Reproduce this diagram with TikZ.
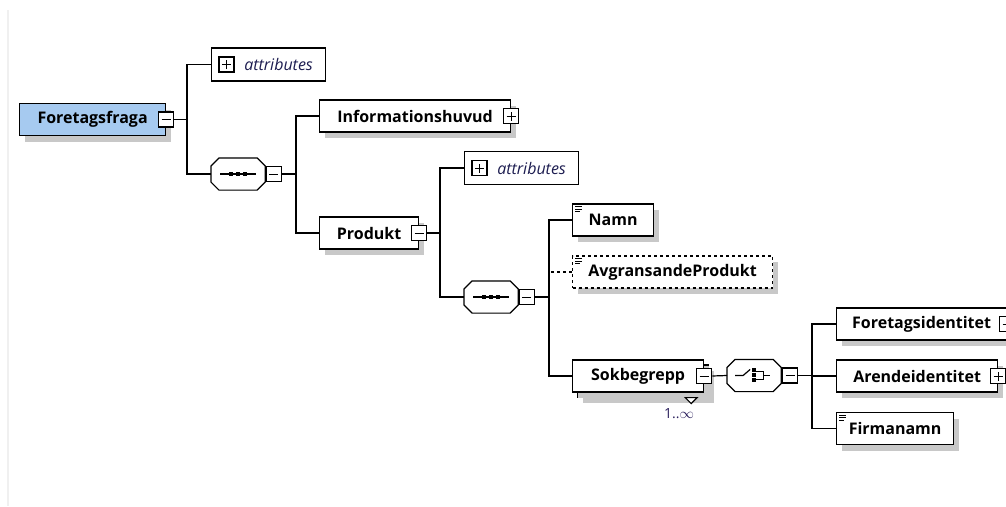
\documentclass[tikz,border=0pt]{standalone}
\usepackage{fontspec}
\setmainfont{Open Sans}
\usepackage{tikz}
\usetikzlibrary{positioning,shadows}

\definecolor{elemblue}{HTML}{A6CAF0}
\definecolor{shadowgray}{HTML}{C8C8C8}
\definecolor{attrtext}{HTML}{1C1C50}
\definecolor{occurtext}{HTML}{2A1F5C}
\definecolor{edgegray}{HTML}{F0F0F0}

% octagon outline round a compositor node
\newcommand{\octpath}[1]{([xshift=8pt]#1.north west) -- ([xshift=-8pt]#1.north east)
  -- ([yshift=-8pt]#1.north east) -- ([yshift=8pt]#1.south east)
  -- ([xshift=-8pt]#1.south east) -- ([xshift=8pt]#1.south west)
  -- ([yshift=8pt]#1.south west) -- ([yshift=-8pt]#1.north west) -- cycle}

\begin{document}
\begin{tikzpicture}[x=1pt, y=-1pt, line width=1.2pt,
  elem/.style={draw, fill=white, anchor=west, minimum height=32pt, inner sep=0pt,
    font=\bfseries\fontsize{16}{18}\selectfont,
    general shadow={fill=shadowgray, shadow xshift=5pt, shadow yshift=-6pt}},
  attrbox/.style={draw, fill=white, anchor=west, minimum height=33pt, minimum width=114pt,
    inner sep=0pt, text=attrtext, font=\itshape\fontsize{16}{18}\selectfont},
  compositor/.style={anchor=west, minimum width=53pt, minimum height=31pt, inner sep=0pt},
  tog/.style={draw, fill=white, minimum size=15pt, inner sep=0pt},
  togminus/.style={tog, path picture={\draw[line width=1pt]
    ([xshift=3pt]path picture bounding box.west) -- ([xshift=-3pt]path picture bounding box.east);}},
  togplus/.style={tog, path picture={\draw[line width=1pt]
    ([xshift=3pt]path picture bounding box.west) -- ([xshift=-3pt]path picture bounding box.east)
    ([yshift=3pt]path picture bounding box.south) -- ([yshift=-3pt]path picture bounding box.north);}}]
\useasboundingbox (0,0) rectangle (1006,506);
\clip (0,0) rectangle (1006,506);
\draw[edgegray] (8,10) -- (8,506);

% compositor places
\node[compositor] (seq1) at (211,174) {};
\node[compositor] (seq2) at (464,297) {};
\node[compositor] (choice) at (727,375.5) {};
\foreach \c in {seq1,seq2,choice} {
  \fill[shadowgray, shift={(5pt,-6pt)}] \octpath{\c};
  \draw[fill=white] \octpath{\c};
}
\node[togminus] (seq1tog) at ([xshift=8.5pt]seq1.east) {};
\node[togminus] (seq2tog) at ([xshift=8.5pt]seq2.east) {};
\node[togminus] (choicetog) at ([xshift=9pt]choice.east) {};

% root element
\node[elem, fill=elemblue, minimum width=146pt] (fore) at (19,119.5) {Foretagsfraga};
\node[togminus] (foretog) at (fore.east) {};
\node[attrbox] (attr1) at (211,64.5) {\hspace*{20pt}attributes};
\node[togplus] at ([xshift=15.5pt]attr1.west) {};

% level 2
\node[elem, minimum width=191pt] (info) at (319,116) {Informationshuvud};
\node[togplus] at (info.east) {};
\node[elem, minimum width=99pt] (prod) at (319,233) {Produkt};
\node[togminus] (prodtog) at (prod.east) {};
\node[attrbox] (attr2) at (464,168) {\hspace*{20pt}attributes};
\node[togplus] at ([xshift=15.5pt]attr2.west) {};

% level 3
\node[elem, minimum width=81pt] (namn) at (572,220) {Namn};
\node[elem, dashed, minimum width=200pt] (avgr) at (572,272) {AvgransandeProdukt};
\node[elem, minimum width=131pt] (sokcopy) at (577,381) {};
\node[elem, minimum width=131pt] (sok) at (572,376) {Sokbegrepp};
\draw[fill=white] ([xshift=-24pt]sokcopy.south east) -- ++(12,0) -- ++(-6,6) -- cycle;
\node[togminus] (soktog) at (sok.east) {};
\node[font=\fontsize{14}{16}\selectfont, text=occurtext, inner sep=0pt] (occ)
  at (679,414) {1..$\infty$};

% level 4
\node[elem, minimum width=170pt] (ftid) at (836,324) {Foretagsidentitet};
\node[togminus] at (ftid.east) {};
\node[elem, minimum width=161pt] (arid) at (836,376) {Arendeidentitet};
\node[togplus] at (arid.east) {};
\node[elem, minimum width=117pt] (firma) at (836,428.5) {Firmanamn};

% text-only marks
\foreach \n in {namn,avgr,firma}
  \foreach \dy/\len in {3/7,5.5/7,8/5}
    \draw[line width=0.8pt] ([xshift=3pt,yshift=-\dy pt]\n.north west) -- +(\len,0);

% sequence marks
\foreach \s in {seq1,seq2} {
  \draw (\s.center) +(-18,0) -- +(18,0);
  \foreach \dx in {-7,0,7}
    \fill (\s.center) +(\dx-2,-2) rectangle +(\dx+2,2);
}
% choice mark
\draw (choice.center) +(-19,0) -- +(-11,0) -- +(-4,-6);
\foreach \dy in {-6,-1,4}
  \fill (choice.center) +(-2,\dy-2) rectangle +(2,\dy+2);
\draw (choice.center) +(2,-4) -- +(9,-4) -- +(9,4) -- +(2,4) +(9,0) -- +(16,0);

% joints
\coordinate (j1) at (187,119.5);
\coordinate (j2) at (296,174);
\coordinate (j3) at (440,233);
\coordinate (j4) at (549,297);
\coordinate (j5) at (812,375.5);

\draw (foretog.east) -- (j1);
\draw (attr1.west) -| (j1) |- (seq1.west);
\draw (seq1tog.east) -- (j2);
\draw (info.west) -| (j2) |- (prod.west);
\draw (prodtog.east) -- (j3);
\draw (attr2.west) -| (j3) |- (seq2.west);
\draw (seq2tog.east) -- (j4);
\draw (namn.west) -| (j4) |- (sok.west);
\draw[dashed] (avgr.west) -- (avgr.west -| j4);
\draw (soktog.east) -- (choice.west);
\draw (choicetog.east) -- (j5);
\draw (ftid.west) -| (j5) |- (firma.west);
\draw (arid.west) -- (arid.west -| j5);
\end{tikzpicture}
\end{document}
